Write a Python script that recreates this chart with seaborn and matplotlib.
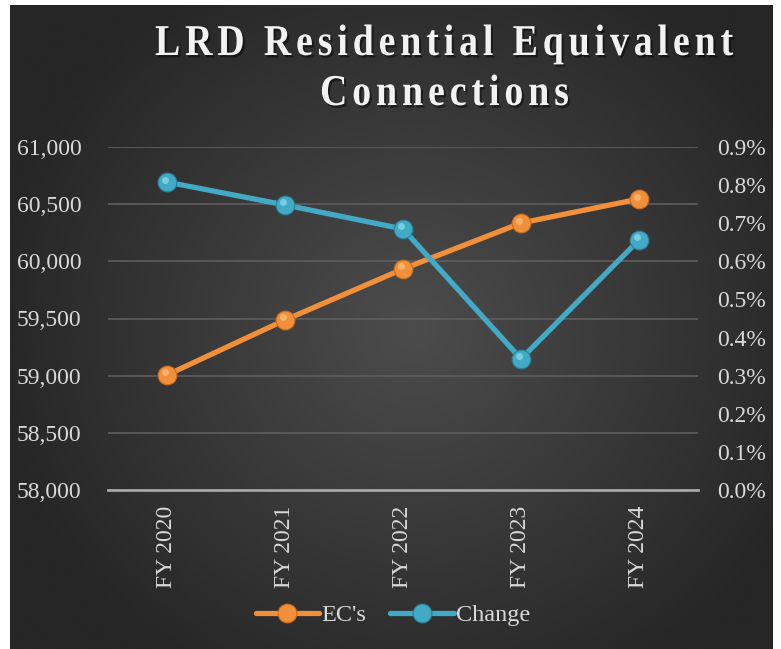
import matplotlib
matplotlib.use("Agg")
import matplotlib.pyplot as plt
import matplotlib.patheffects as pe
import matplotlib.ticker as mticker
import numpy as np
import pandas as pd
import seaborn as sns
from matplotlib.font_manager import FontProperties, findfont
from matplotlib.ft2font import FT2Font
from matplotlib.patches import PathPatch
from matplotlib.textpath import TextPath
from matplotlib.transforms import Affine2D, offset_copy

years = ["FY 2020", "FY 2021", "FY 2022", "FY 2023", "FY 2024"]
ecs = [59006, 59487, 59933, 60335, 60545]
change_pct = [0.808, 0.748, 0.685, 0.344, 0.656]
title_lines = ["LRD Residential Equivalent", "Connections"]

ORANGE = "#f28f3b"
BLUE = "#43aac6"
TEXT = "#d9d9d9"
SERIF = ["Liberation Serif", "DejaVu Serif"]

sns.set_theme(style="dark")
plt.rcParams["font.family"] = SERIF

df = pd.DataFrame({"year": years, "ecs": ecs, "change": change_pct})
df["x"] = range(len(df))

fig = plt.figure(figsize=(7.81, 6.49), dpi=100)
fig.patch.set_facecolor("white")

# dark radial background panel
bg = fig.add_axes([10 / 781, 0, 763 / 781, 644 / 649])
yy, xx = np.mgrid[0:300, 0:360]
r = np.sqrt(((xx - 190) / 200) ** 2 + ((yy - 150) / 190) ** 2)
shade = np.clip(0.30 - 0.15 * r, 0.15, 0.30)
bg.imshow(shade, cmap="gray", vmin=0, vmax=1, aspect="auto",
          interpolation="bicubic", extent=[0, 1, 0, 1])
bg.set_axis_off()

ax = fig.add_axes([108 / 781, 1 - 490 / 649, 590 / 781, 343 / 649])
ax.set_facecolor("none")
ax2 = ax.twinx()

sns.lineplot(data=df, x="x", y="ecs", ax=ax, color=ORANGE, lw=3.8,
             marker="o", markersize=13.5, markeredgecolor="#c46d1e",
             markeredgewidth=0.8, label="EC's", legend=False, zorder=3)
sns.lineplot(data=df, x="x", y="change", ax=ax2, color=BLUE, lw=3.8,
             marker="o", markersize=13.5, markeredgecolor="#2a7f98",
             markeredgewidth=0.8, label="Change", legend=False, zorder=3)
# glossy highlight on the spheres, nudged up-left
ax.plot(df["x"], df["ecs"], "o", ms=5, color="#ffcf94", alpha=0.55, mec="none",
        zorder=4, transform=offset_copy(ax.transData, fig, x=-1.5, y=1.8, units="points"))
ax2.plot(df["x"], df["change"], "o", ms=5, color="#a4eaf8", alpha=0.55, mec="none",
         zorder=4, transform=offset_copy(ax2.transData, fig, x=-1.5, y=1.8, units="points"))

ax.set_xlim(-0.5, len(years) - 0.5)
ax.set_ylim(58000, 61000)
ax.set_yticks(np.arange(58000, 61001, 500))
ax.yaxis.set_major_formatter(mticker.StrMethodFormatter("{x:,.0f}"))
ax2.set_ylim(0, 0.9)
ax2.set_yticks(np.arange(0, 0.91, 0.1))
ax2.yaxis.set_major_formatter(mticker.FuncFormatter(lambda v, p: f"{v:.1f}%"))

ax.set_xticks(df["x"])
ax.set_xticklabels(years, rotation=90)
ax.set_xlabel("")
ax.set_ylabel("")
ax2.set_ylabel("")

ax.grid(axis="y", color="#5e5e5e", lw=1.2)
ax.grid(axis="x", visible=False)
ax2.grid(False)
for a in (ax, ax2):
    for s in a.spines.values():
        s.set_visible(False)
    a.tick_params(length=0, colors=TEXT, labelsize=17)
ax.spines["bottom"].set_visible(True)
ax.spines["bottom"].set_color("#a6a6a6")
ax.spines["bottom"].set_linewidth(2)
ax.tick_params(axis="y", pad=19)
ax.tick_params(axis="x", pad=11)
ax2.tick_params(axis="y", pad=14)
ax.set_zorder(2)
ax2.set_zorder(3)

# title: letter-spaced, slightly condensed serif drawn as glyph paths
tax = fig.add_axes([0, 0, 1, 1])
tax.set_xlim(0, 781)
tax.set_ylim(649, 0)
tax.set_axis_off()
tax.set_zorder(5)

fp = FontProperties(family="Liberation Serif", weight="bold")
ft = FT2Font(findfont(fp))
EM = 44.0
SX = 0.86
ft.set_size(EM, 72)
shadow = [pe.withSimplePatchShadow(offset=(1.5, -1.8), shadow_rgbFace="black", alpha=0.45)]


def spaced_text(s, x0, x1, baseline):
    adv = [ft.load_char(ord(c)).linearHoriAdvance / 65536 * SX for c in s]
    last = TextPath((0, 0), s[-1], size=EM, prop=fp).get_extents().x1 * SX
    natural = sum(adv[:-1]) + last
    track = (x1 - x0 - natural) / (len(s) - 1)
    x = x0
    for c, a in zip(s, adv):
        if c != " ":
            p = TextPath((0, 0), c, size=EM, prop=fp)
            p = p.transformed(Affine2D().scale(SX, -1).translate(x, baseline))
            tax.add_patch(PathPatch(p, fc="#f2f2f2", ec="none", path_effects=shadow))
        x += a + track


spaced_text(title_lines[0], 155, 733, 55)
spaced_text(title_lines[1], 320, 568, 105)

h1, l1 = ax.get_legend_handles_labels()
h2, l2 = ax2.get_legend_handles_labels()
fig.legend(h1[:1] + h2[:1], ["EC's", "Change"], loc="center",
           bbox_to_anchor=(393 / 781, 1 - 615 / 649), ncol=2, frameon=False,
           fontsize=17.5, labelcolor=TEXT, handlelength=2.6, handletextpad=0.1,
           columnspacing=1.0)

fig.savefig("out.png", dpi=100)
